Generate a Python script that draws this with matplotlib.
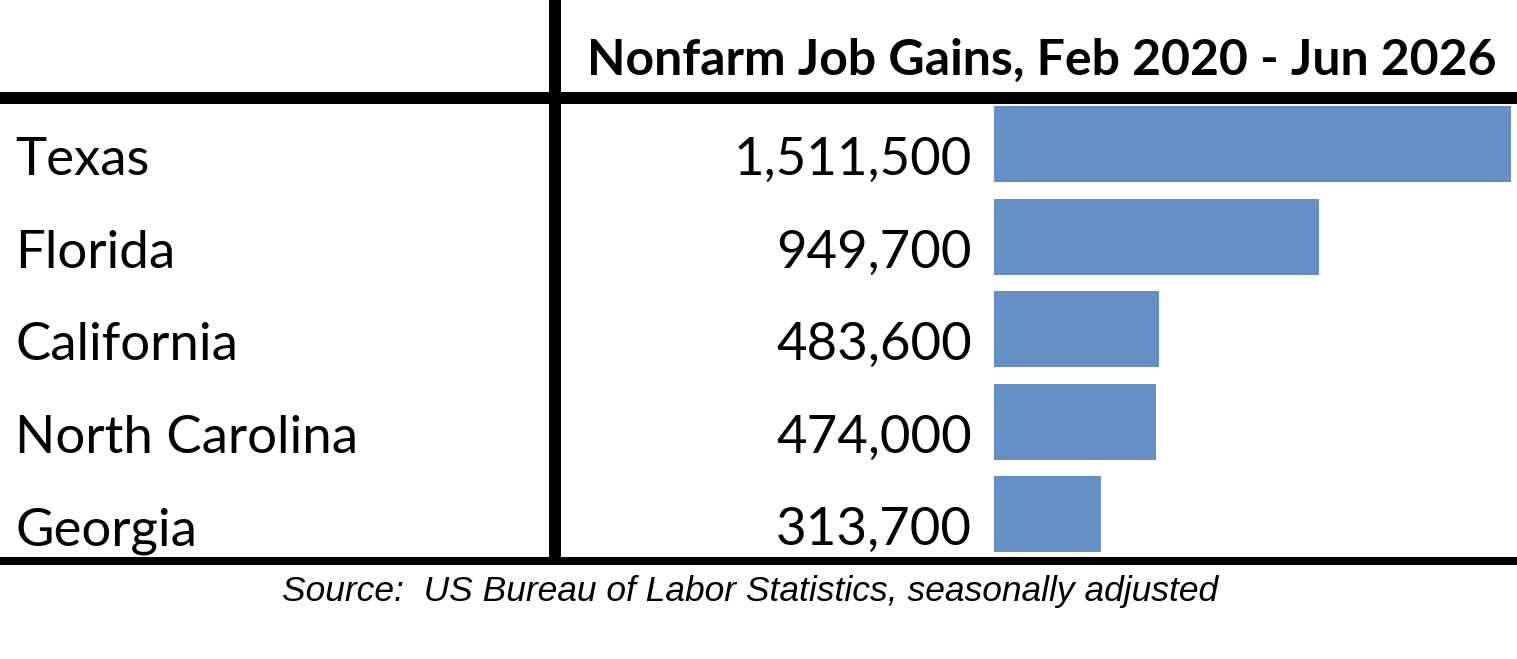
import matplotlib
matplotlib.use("Agg")
import matplotlib.pyplot as plt
from matplotlib.lines import Line2D
from matplotlib.transforms import blended_transform_factory

states = ["Texas", "Florida", "California", "North Carolina", "Georgia"]
gains = [1511500, 949700, 483600, 474000, 313700]
header = "Nonfarm Job Gains, Feb 2020 - Jun 2026"
source = "Source:  US Bureau of Labor Statistics, seasonally adjusted"

W, H = 1517, 659
DPI = 100
fig = plt.figure(figsize=(W / DPI, H / DPI), dpi=DPI)
fig.patch.set_facecolor("white")

def fx(px):
    return px / W

def fy(py):
    return 1 - py / H

# bar axes
top_px, bot_px = 98, 560.5
left_px, right_px = 994, 1511
ax = fig.add_axes([fx(left_px), fy(bot_px), fx(right_px - left_px), (bot_px - top_px) / H])
ypos = list(range(len(states)))
ax.barh(ypos, gains, height=0.82, color="#6590c6", edgecolor="none")
ax.set_xlim(0, max(gains))
ax.set_ylim(len(states) - 0.5, -0.5)
ax.axis("off")

font = "Lato"
tr = blended_transform_factory(fig.transFigure, ax.transData)
for i, (s, v) in enumerate(zip(states, gains)):
    ax.text(fx(15), i + 0.335, s, transform=tr, ha="left", va="baseline",
            fontsize=38, family=font, color="black")
    ax.text(fx(972), i + 0.335, f"{v:,}", transform=tr, ha="right", va="baseline",
            fontsize=38, family=font, color="black")

fig.text(fx(1042), fy(75), header, ha="center", va="baseline", fontsize=36,
         family=font, fontweight="bold", color="black")
fig.text(fx(750), fy(601), source, ha="center", va="baseline", fontsize=25.5,
         family="Liberation Sans", style="italic", color="black")

# table rules
fig.add_artist(Line2D([0, 1], [fy(97.5), fy(97.5)], transform=fig.transFigure,
                      color="black", lw=12 * 72 / DPI, solid_capstyle="butt"))
fig.add_artist(Line2D([0, 1], [fy(561), fy(561)], transform=fig.transFigure,
                      color="black", lw=8 * 72 / DPI, solid_capstyle="butt"))
fig.add_artist(Line2D([fx(555), fx(555)], [1, fy(561)], transform=fig.transFigure,
                      color="black", lw=12 * 72 / DPI, solid_capstyle="butt"))

fig.savefig("out.png", dpi=DPI, facecolor="white")
